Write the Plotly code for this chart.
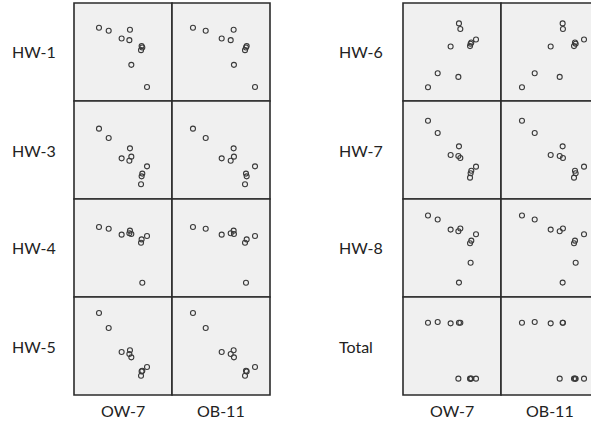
import plotly.graph_objects as go

ow7 = [25.5, 35.4, 57.1, 48.6, 56.5, 69.7, 69.0, 68.4, 58.5, 74.5]
ob11 = [21.4, 34.4, 62.9, 50.7, 59.9, 75.5, 76.2, 74.5, 63.2, 84.7]
hw1 = [74.7, 71.7, 72.7, 63.8, 62.1, 54.6, 56.0, 51.9, 36.9, 14.3]
hw3 = [71.8, 62.2, 51.7, 41.5, 39.1, 25.9, 23.1, 15.0, 43.2, 33.3]
hw4 = [71.4, 69.7, 67.7, 63.6, 65.0, 14.6, 58.8, 55.4, 64.3, 62.2]
hw5 = [83.7, 68.4, 45.6, 43.9, 41.8, 24.8, 24.1, 19.7, 38.4, 28.6]
hw6 = [14.0, 28.3, 79.2, 55.6, 24.6, 59.7, 58.4, 56.0, 73.4, 62.8]
hw7 = [79.9, 67.3, 53.7, 44.9, 43.9, 28.9, 26.2, 21.8, 41.8, 33.0]
hw8 = [83.2, 79.1, 14.7, 68.8, 67.1, 57.5, 34.9, 54.8, 69.9, 64.0]
total = [73.8, 74.5, 73.8, 73.1, 16.7, 16.8, 16.5, 16.7, 73.8, 16.7]

col_names = ["OW-7", "OB-11"]
col_data = [ow7, ob11]
left_rows = ["HW-1", "HW-3", "HW-4", "HW-5"]
left_data = [hw1, hw3, hw4, hw5]
right_rows = ["HW-6", "HW-7", "HW-8", "Total"]
right_data = [hw6, hw7, hw8, total]

W, H = 591, 426
FONT = "Lato"
row_edges = [3, 101, 199, 297, 395]
panels = [
    (left_rows, left_data, [74, 172, 270], 10),
    (right_rows, right_data, [403, 501, 599], 337),
]

fig = go.Figure()
layout = dict(
    width=W, height=H, margin=dict(l=0, r=0, t=0, b=0),
    paper_bgcolor="white", plot_bgcolor="rgba(0,0,0,0)",
    showlegend=False, shapes=[], annotations=[],
)

ax = 0
for rows, rdata, cedges, label_x in panels:
    for ri, (rname, yvals) in enumerate(zip(rows, rdata)):
        y0p, y1p = row_edges[ri], row_edges[ri + 1]
        for ci, (cname, xvals) in enumerate(zip(col_names, col_data)):
            ax += 1
            x0p, x1p = cedges[ci], cedges[ci + 1]
            x1c = min(x1p, W)
            xr = [0, 100 * (x1c - x0p) / (x1p - x0p)]
            xa = "xaxis" if ax == 1 else f"xaxis{ax}"
            ya = "yaxis" if ax == 1 else f"yaxis{ax}"
            xs = "x" if ax == 1 else f"x{ax}"
            ys = "y" if ax == 1 else f"y{ax}"
            layout[xa] = dict(domain=[x0p / W, x1c / W], range=xr, visible=False,
                              fixedrange=True, anchor=ys)
            layout[ya] = dict(domain=[1 - y1p / H, 1 - y0p / H], range=[0, 100],
                              visible=False, fixedrange=True, anchor=xs)
            layout["shapes"].append(dict(
                type="rect", xref="paper", yref="paper",
                x0=x0p / W, x1=x1p / W, y0=1 - y1p / H, y1=1 - y0p / H,
                fillcolor="#f0f0f0", line=dict(color="#2b2b2b", width=1.6),
                layer="below"))
            fig.add_trace(go.Scatter(
                x=xvals, y=yvals, mode="markers", xaxis=xs, yaxis=ys,
                marker=dict(symbol="circle-open", size=5, color="#3a3a3a",
                            line=dict(width=1.1, color="#3a3a3a")),
                cliponaxis=False, hoverinfo="skip"))
        layout["annotations"].append(dict(
            text=rname, xref="paper", yref="paper", x=label_x / W,
            y=1 - (y0p + y1p) / 2 / H, xanchor="left", yanchor="middle",
            showarrow=False, font=dict(family=FONT, size=16, color="#222")))
    for ci, cname in enumerate(col_names):
        cx = (cedges[ci] + cedges[ci + 1]) / 2
        layout["annotations"].append(dict(
            text=cname, xref="paper", yref="paper", x=cx / W, y=1 - 410 / H,
            xanchor="center", yanchor="middle", showarrow=False,
            font=dict(family=FONT, size=16, color="#222")))

fig.update_layout(**layout)
fig.write_html("out.html")
